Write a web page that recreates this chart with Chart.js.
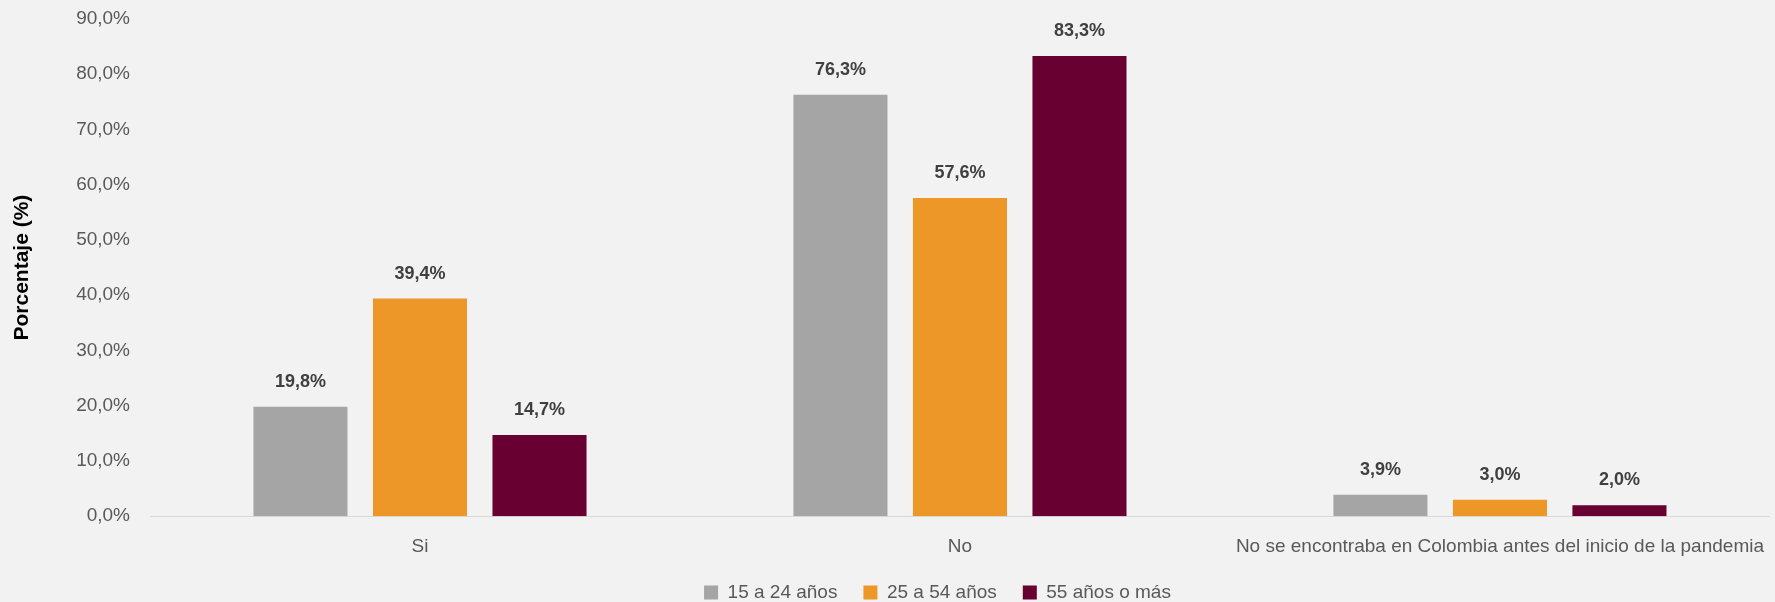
<!DOCTYPE html>
<html lang="es">
<head>
<meta charset="utf-8">
<title>Porcentaje por grupo de edad</title>
<script src="https://cdn.jsdelivr.net/npm/chart.js@4/dist/chart.umd.min.js"></script>
<style>
    html, body { margin:0; padding:0; background:#f2f2f2; }
    #contenedor { width:1775px; height:602px; position:relative; }
</style>
</head>
<body>
<div id="contenedor"><canvas id="grafica"></canvas></div>
<script>
// ── DATOS ─────────────────────────────────────────────
const categorias = ['Si', 'No', 'No se encontraba en Colombia antes del inicio de la pandemia'];
const edad15a24  = [19.8, 76.3, 3.9];
const edad25a54  = [39.4, 57.6, 3.0];
const edad55mas  = [14.7, 83.3, 2.0];
const series     = ['15 a 24 años', '25 a 54 años', '55 años o más'];
const colores    = ['#a5a5a5', '#ee9729', '#680032'];

const fmt = v => v.toFixed(1).replace('.', ',') + '%';
const fuente = '"Liberation Sans", Arial, sans-serif';

// ── ETIQUETAS SOBRE LAS BARRAS ────────────────────────
const etiquetas = {
    id: 'etiquetas',
    afterDatasetsDraw(chart) {
        const ctx = chart.ctx;
        ctx.save();
        ctx.font = 'bold 18px ' + fuente;
        ctx.fillStyle = '#404040';
        ctx.textAlign = 'center';
        ctx.textBaseline = 'middle';
        chart.data.datasets.forEach((ds, i) => {
            chart.getDatasetMeta(i).data.forEach((bar, j) => {
                ctx.fillText(fmt(ds.data[j]), bar.x, bar.y - 25);
            });
        });
        ctx.restore();
    }
};

// ── LEYENDA: menos alta, subida y corrida a la derecha ─
const ajusteLeyenda = {
    id: 'ajusteLeyenda',
    beforeInit(chart) {
        const leyenda = chart.legend;
        const fitOriginal = leyenda.fit.bind(leyenda);
        leyenda.fit = function () {
            fitOriginal();
            this.height -= 22;
        };
    },
    afterLayout(chart) {
        const leyenda = chart.legend;
        leyenda.left += 100;
        leyenda.top -= 12;
    }
};

new Chart(document.getElementById('grafica'), {
    type: 'bar',
    data: {
        labels: categorias,
        datasets: [edad15a24, edad25a54, edad55mas].map((d, i) => ({
            label: series[i],
            data: d,
            backgroundColor: colores[i],
            categoryPercentage: 0.664,
            barPercentage: 0.787
        }))
    },
    options: {
        responsive: true,
        maintainAspectRatio: false,
        animation: false,
        layout: { padding: { top: 19, right: 0, left: 0, bottom: 0 } },
        plugins: {
            legend: {
                position: 'bottom',
                labels: {
                    color: '#595959',
                    boxWidth: 14,
                    boxHeight: 14,
                    padding: 26,
                    font: { family: fuente, size: 19 }
                }
            },
            tooltip: { enabled: false }
        },
        scales: {
            x: {
                grid: { display: false },
                border: { color: '#d9d9d9', width: 1 },
                ticks: {
                    color: '#595959',
                    padding: 11,
                    maxRotation: 0,
                    autoSkip: false,
                    font: { family: fuente, size: 19 }
                }
            },
            y: {
                min: 0,
                max: 90,
                grid: { display: false, drawTicks: false },
                border: { display: false },
                ticks: {
                    stepSize: 10,
                    padding: 20,
                    color: '#595959',
                    font: { family: fuente, size: 19 },
                    callback: v => fmt(v)
                },
                title: {
                    display: true,
                    text: 'Porcentaje (%)',
                    color: '#000000',
                    padding: { top: 10, bottom: 4 },
                    font: { family: fuente, size: 21, weight: 'bold' }
                },
                afterFit: s => { s.width = 150; s.paddingTop = 0; }
            }
        }
    },
    plugins: [etiquetas, ajusteLeyenda]
});
</script>
</body>
</html>
